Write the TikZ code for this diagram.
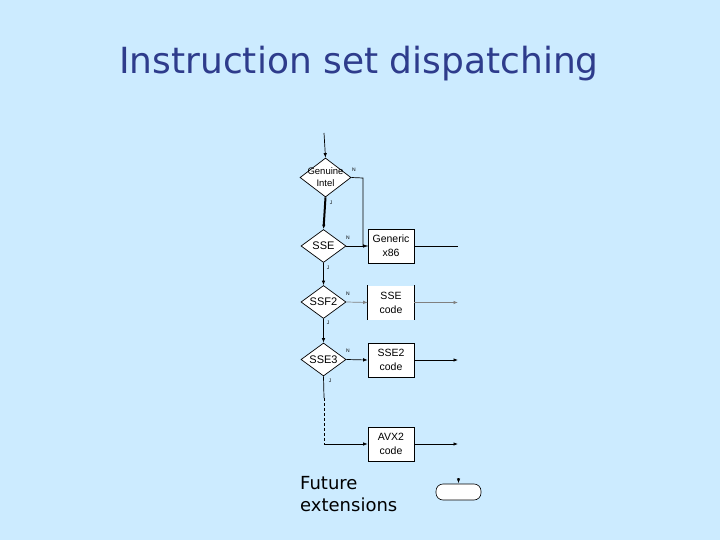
\documentclass[tikz,border=0pt]{standalone}
\usepackage{fontspec}
\setmainfont{DejaVu Sans}
\newfontfamily\arialfont{Liberation Sans}
\usetikzlibrary{shapes.geometric,arrows.meta}
\definecolor{bgblue}{HTML}{CCEBFF}
\definecolor{titleblue}{HTML}{2E3C8C}
\begin{document}
\begin{tikzpicture}[x=1pt,y=-1pt,
  dia/.style={draw=black,fill=white,shape=diamond,inner sep=0pt,line width=0.7pt},
  dtext/.style={font=\arialfont\fontsize{11}{12}\selectfont,align=center,inner sep=0pt},
  codebox/.style={draw=black,fill=white,minimum width=46pt,minimum height=34pt,inner sep=0pt,line width=0.7pt,
    font=\arialfont\fontsize{10.5}{14}\selectfont,align=center},
  yn/.style={font=\arialfont\fontsize{5}{5}\selectfont,inner sep=0pt},
  conn/.style={line width=0.7pt,black},
  arr/.style={conn,-{Latex[length=4.5pt,width=3.5pt]}}]
\useasboundingbox[fill=bgblue] (0,0) rectangle (720,540);
\node[anchor=base,text=titleblue,font=\fontsize{36}{42}\selectfont,inner sep=0pt] (title) at (359,74) {Instruction set dispatching};

% diamonds
\node[dia,minimum width=51pt,minimum height=39pt,
  label={[dtext,font=\arialfont\fontsize{9.5}{12}\selectfont]center:Genuine\\Intel}] (d1) at (325.5,177.5) {};
\node[dia,minimum width=45pt,minimum height=33pt,label={[dtext]center:SSE}] (d2) at (323.5,246) {};
\node[dia,minimum width=45pt,minimum height=33pt,label={[dtext]center:SSF2}] (d3) at (323.5,302) {};
\node[dia,minimum width=45pt,minimum height=33pt,label={[dtext]center:SSE3}] (d4) at (323.5,359.5) {};

% boxes
\node[codebox] (b1) at (391,246) {Generic\\x86};
\node[codebox,draw=none] (b2) at (391,302.5) {SSE\\code};
\draw[conn] (b2.north west) -- (b2.south west) (b2.north east) -- (b2.south east);
\node[codebox] (b3) at (391,360) {SSE2\\code};
\node[codebox] (b4) at (391,444) {AVX2\\code};

% terminal
\node[draw=black,fill=white,rounded corners=7pt,minimum width=45pt,minimum height=16pt,inner sep=0pt,line width=0.6pt] (term) at (458.5,492) {};

% coordinates
\coordinate (top) at (324,133);
\coordinate (bend) at (363,178);
\coordinate (e1) at (458,246);
\coordinate (e2) at (458,302.5);
\coordinate (e3) at (458,360);
\coordinate (e4) at (458,444);
\coordinate (solidend) at (324,398);
\coordinate (dashcorner) at (324,444);
\coordinate (termtop) at (458.5,478);
\coordinate (termtip) at (458.5,483);

% connectors
\draw[arr] (top) -- (d1.north);
\draw[arr,line width=2pt] (d1.south) -- (d2.north);
\draw[conn] (d1.east) -- (bend) |- (b1.west);
\draw[arr] (d2.east) -- (b1.west);
\draw[conn] (b1.east) -- (e1);
\draw[arr] (d2.south) -- (d3.north);
\draw[arr,gray] (d3.east) -- (b2.west);
\draw[arr,gray] (b2.east) -- (e2);
\draw[arr] (d3.south) -- (d4.north);
\draw[arr] (d4.east) -- (b3.west);
\draw[arr] (b3.east) -- (e3);
\draw[conn] (d4.south) -- (solidend);
\draw[conn,dash pattern=on 3pt off 2pt] (solidend) -- (dashcorner);
\draw[arr] (dashcorner) -- (b4.west);
\draw[arr] (b4.east) -- (e4);
\draw[arr,line width=0.3pt] (termtop) -- (termtip);

% N / J labels
\node[yn] (n1) at (354,170) {N};
\node[yn] (n2) at (348,238) {N};
\node[yn] (n3) at (348,294) {N};
\node[yn] (n4) at (348,351) {N};
\node[yn] (j1) at (331,203) {J};
\node[yn] (j2) at (328,268) {J};
\node[yn] (j3) at (328,323) {J};
\node[yn] (j4) at (330,381) {J};

% future extensions
\node[anchor=base west,font=\fontsize{18}{22}\selectfont,align=left,inner sep=0pt] (fut) at (300,511) {Future\\extensions};
\end{tikzpicture}
\end{document}
